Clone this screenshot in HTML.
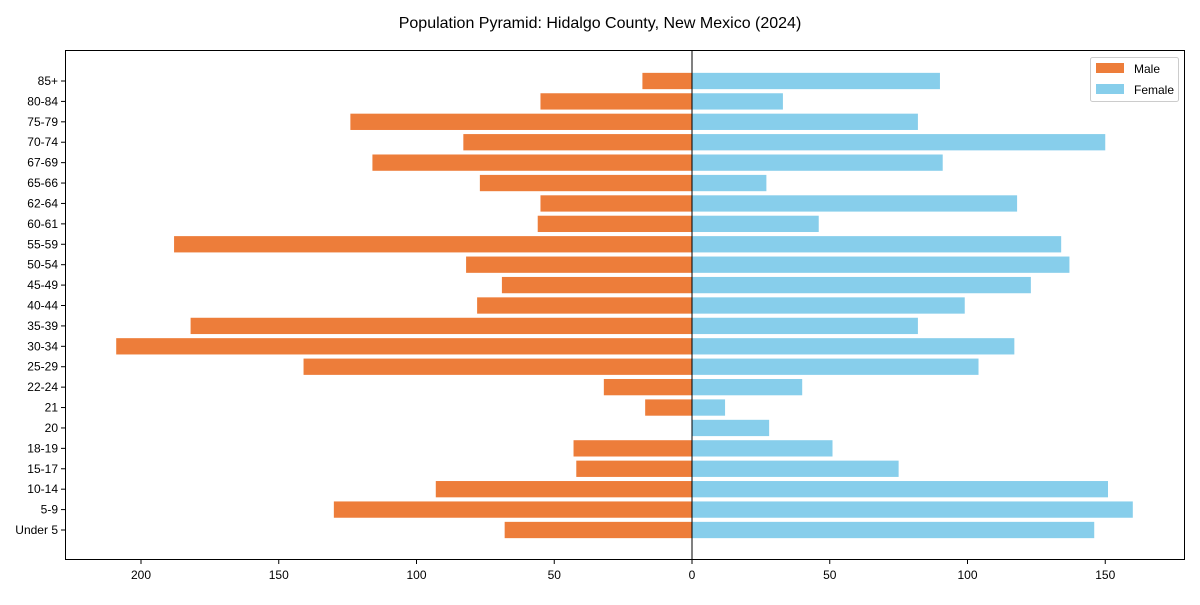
<!DOCTYPE html>
<html><head><meta charset="utf-8"><style>
body{margin:0;background:#fff;}
svg text{font-family:"Liberation Sans",Arial,sans-serif;fill:#000;}
</style></head><body>
<svg id="chart" width="1200" height="600" xmlns="http://www.w3.org/2000/svg"></svg>
<script>
const categories=["Under 5","5-9","10-14","15-17","18-19","20","21","22-24","25-29","30-34","35-39","40-44","45-49","50-54","55-59","60-61","62-64","65-66","67-69","70-74","75-79","80-84","85+"];
const maleValues=[68,130,93,42,43,0,17,32,141,209,182,78,69,82,188,56,55,77,116,83,124,55,18];
const femaleValues=[146,160,151,75,51,28,12,40,104,117,82,99,123,137,134,46,118,27,91,150,82,33,90];
const xTickValues=[-200,-150,-100,-50,0,50,100,150];
const xTickLabels=["200","150","100","50","0","50","100","150"];

const NS="http://www.w3.org/2000/svg";
const svg=document.getElementById('chart');
const L=65,R=1185,T=50,B=560;
const zeroX=692,pxPer=2.755;
function xs(v){return zeroX+v*pxPer;}
const topY=81,step=(530-81)/22,barH=16.3;
function ys(i){return 530-i*step;}
function mk(tag,attrs,parent){const e=document.createElementNS(NS,tag);for(const k in attrs)e.setAttribute(k,attrs[k]);(parent||svg).appendChild(e);return e;}

const title=mk('text',{x:600,y:28,'text-anchor':'middle','font-size':16});
title.textContent="Population Pyramid: Hidalgo County, New Mexico (2024)";



const bars=mk('g',{});


categories.forEach((c,i)=>{
  const y=ys(i)-barH/2;
  const m=maleValues[i];
  const rm=mk('rect',{x:xs(-m),y:y,width:xs(0)-xs(-m),height:barH,fill:'#ED7D3A'},bars);
  
  
  const f=femaleValues[i];
  const rf=mk('rect',{x:xs(0),y:y,width:xs(f)-xs(0),height:barH,fill:'#87CEEB'},bars);
  
  
  mk('line',{x1:L,x2:L-4,y1:ys(i),y2:ys(i),stroke:'#000','stroke-width':1});
  const t=mk('text',{x:L-7,y:ys(i)+4,'text-anchor':'end','font-size':12});
  t.textContent=c;
  
  
});

const zl=mk('line',{x1:zeroX,x2:zeroX,y1:T,y2:B,stroke:'#000','stroke-width':1});



const frame=mk('rect',{x:L+0.5,y:T+0.5,width:R-L-1,height:B-T-1,fill:'none',stroke:'#000','stroke-width':1});



xTickValues.forEach((v,i)=>{
  mk('line',{x1:xs(v),x2:xs(v),y1:B,y2:B+4,stroke:'#000','stroke-width':1});
  const t=mk('text',{x:xs(v),y:B+19,'text-anchor':'middle','font-size':12});
  t.textContent=xTickLabels[i];
  
  
});

const lg=mk('g',{});


mk('rect',{x:1090.5,y:57.5,width:88,height:44,fill:'#fff',stroke:'#ccc',rx:2},lg);
mk('rect',{x:1096,y:63,width:28,height:10,fill:'#ED7D3A'},lg);
const t1=mk('text',{x:1134,y:73,'font-size':12},lg);t1.textContent="Male";


mk('rect',{x:1096,y:84,width:28,height:10,fill:'#87CEEB'},lg);
const t2=mk('text',{x:1134,y:94,'font-size':12},lg);t2.textContent="Female";


</script>
</body></html>
